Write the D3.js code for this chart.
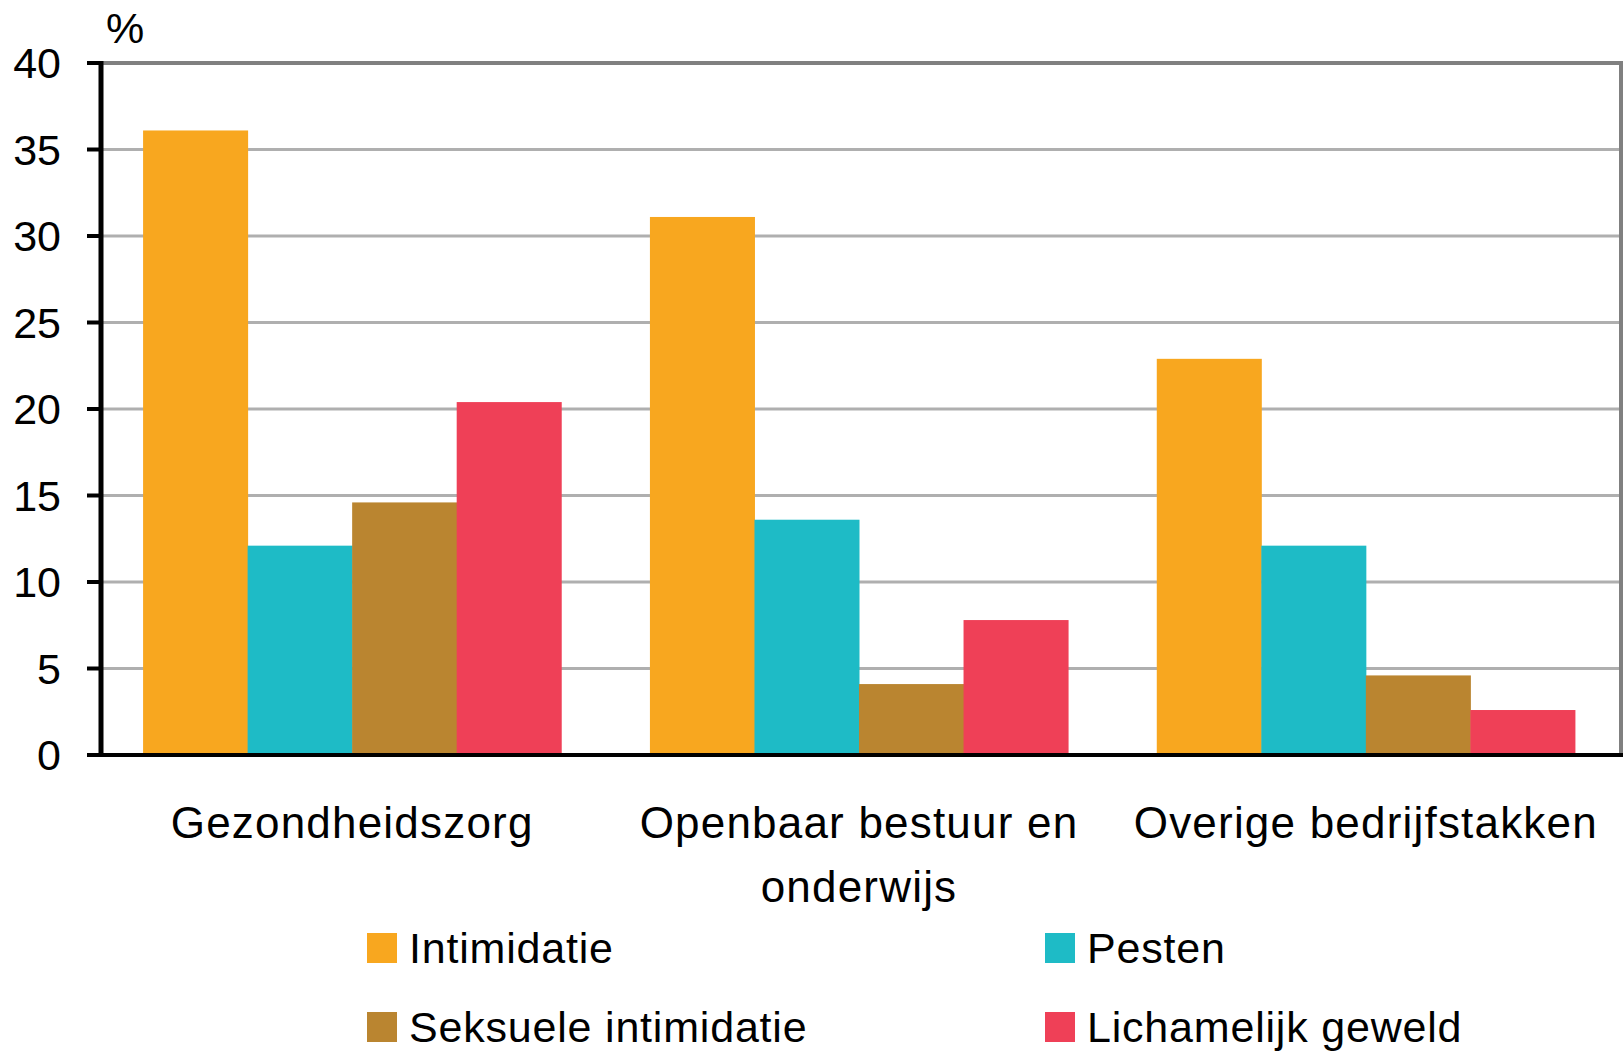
<!DOCTYPE html>
<html>
<head>
<meta charset="utf-8">
<script src="https://cdn.jsdelivr.net/npm/d3@7"></script>
<style>
  body { margin: 0; background: #fff; }
  text { font-family: "Liberation Sans", Arial, sans-serif; fill: #000; }
</style>
</head>
<body>
<div id="chart"></div>
<script>
const categories = ["Gezondheidszorg", "Openbaar bestuur en onderwijs", "Overige bedrijfstakken"];
const categoryLines = [["Gezondheidszorg"], ["Openbaar bestuur en", "onderwijs"], ["Overige bedrijfstakken"]];
const seriesNames = ["Intimidatie", "Pesten", "Seksuele intimidatie", "Lichamelijk geweld"];
const seriesColors = ["#f8a71f", "#1ebbc6", "#ba8530", "#ef4057"];
const intimidatie = [36.1, 31.1, 22.9];
const pesten = [12.1, 13.6, 12.1];
const seksueel = [14.6, 4.1, 4.6];
const geweld = [20.4, 7.8, 2.6];
const yTicks = [0, 5, 10, 15, 20, 25, 30, 35, 40];

const allSeries = [intimidatie, pesten, seksueel, geweld];

const W = 1623, H = 1052;
const plotLeft = 100, plotRight = 1621, plotTop = 63, plotBottom = 755;

const svg = d3.select("#chart").append("svg")
  .attr("width", W).attr("height", H);

const x = d3.scaleBand().domain(categories).range([plotLeft, plotRight - 3])
  .paddingInner(0.175).paddingOuter(0.085);
const xs = d3.scaleBand().domain(seriesNames).range([0, x.bandwidth()]);
const y = d3.scaleLinear().domain([0, 40]).range([plotBottom, plotTop]);

// gridlines
svg.append("g").selectAll("line")
  .data(yTicks.filter(d => d > 0 && d < 40))
  .join("line")
  .attr("x1", plotLeft).attr("x2", plotRight)
  .attr("y1", d => y(d)).attr("y2", d => y(d))
  .attr("stroke", "#afafaf").attr("stroke-width", 3);

// plot border top + right
svg.append("line").attr("x1", plotLeft).attr("x2", plotRight + 2)
  .attr("y1", y(40)).attr("y2", y(40))
  .attr("stroke", "#808080").attr("stroke-width", 4);
svg.append("line").attr("x1", plotRight).attr("x2", plotRight)
  .attr("y1", y(40)).attr("y2", plotBottom)
  .attr("stroke", "#808080").attr("stroke-width", 4);

// bars
const groups = svg.append("g").selectAll("g")
  .data(categories)
  .join("g")
  .attr("transform", d => `translate(${x(d)},0)`);

groups.selectAll("rect")
  .data((c, i) => seriesNames.map((s, j) => ({ s: s, v: allSeries[j][i], c: seriesColors[j] })))
  .join("rect")
  .attr("x", d => xs(d.s))
  .attr("width", xs.bandwidth() + 0.5)
  .attr("y", d => y(d.v))
  .attr("height", d => y(0) - y(d.v))
  .attr("fill", d => d.c);

// y axis
const yAxis = svg.append("g");
yAxis.append("line").attr("x1", plotLeft + 1).attr("x2", plotLeft + 1)
  .attr("y1", y(40) - 2).attr("y2", plotBottom)
  .attr("stroke", "#000").attr("stroke-width", 5);
yAxis.selectAll(".tick")
  .data(yTicks)
  .join("line")
  .attr("class", "tick")
  .attr("x1", 87).attr("x2", plotLeft)
  .attr("y1", d => y(d)).attr("y2", d => y(d))
  .attr("stroke", "#000").attr("stroke-width", 4);
yAxis.selectAll("text")
  .data(yTicks)
  .join("text")
  .attr("x", 61).attr("y", d => y(d) + 15)
  .attr("text-anchor", "end")
  .style("font-size", "43px")
  .text(d => d);

// x axis baseline
svg.append("line").attr("x1", 87).attr("x2", W)
  .attr("y1", plotBottom).attr("y2", plotBottom)
  .attr("stroke", "#000").attr("stroke-width", 4);

svg.append("text").attr("x", 106).attr("y", 43)
  .style("font-size", "43px").text("%");

// category labels
svg.append("g").selectAll("text")
  .data(categories)
  .join("text")
  .attr("x", d => x(d) + x.bandwidth() / 2)
  .attr("y", 838)
  .attr("text-anchor", "middle")
  .style("font-size", "44px")
  .style("letter-spacing", "1.2px")
  .selectAll("tspan")
  .data((d, i) => categoryLines[i])
  .join("tspan")
  .attr("x", function () { return this.parentNode.getAttribute("x"); })
  .attr("dy", (d, i) => i === 0 ? 0 : 64)
  .text(d => d);

// legend
const legendX = [367, 1045];
const legendY = [933, 1012];
const legend = svg.append("g").selectAll("g")
  .data(seriesNames)
  .join("g")
  .attr("transform", (d, i) => `translate(${legendX[i % 2]},${legendY[Math.floor(i / 2)]})`);
legend.append("rect").attr("width", 30).attr("height", 30)
  .attr("fill", (d, i) => seriesColors[i]);
legend.append("text").attr("x", 42).attr("y", 30)
  .style("font-size", "43px")
  .style("letter-spacing", "0.8px")
  .text(d => d);
</script>
</body>
</html>
